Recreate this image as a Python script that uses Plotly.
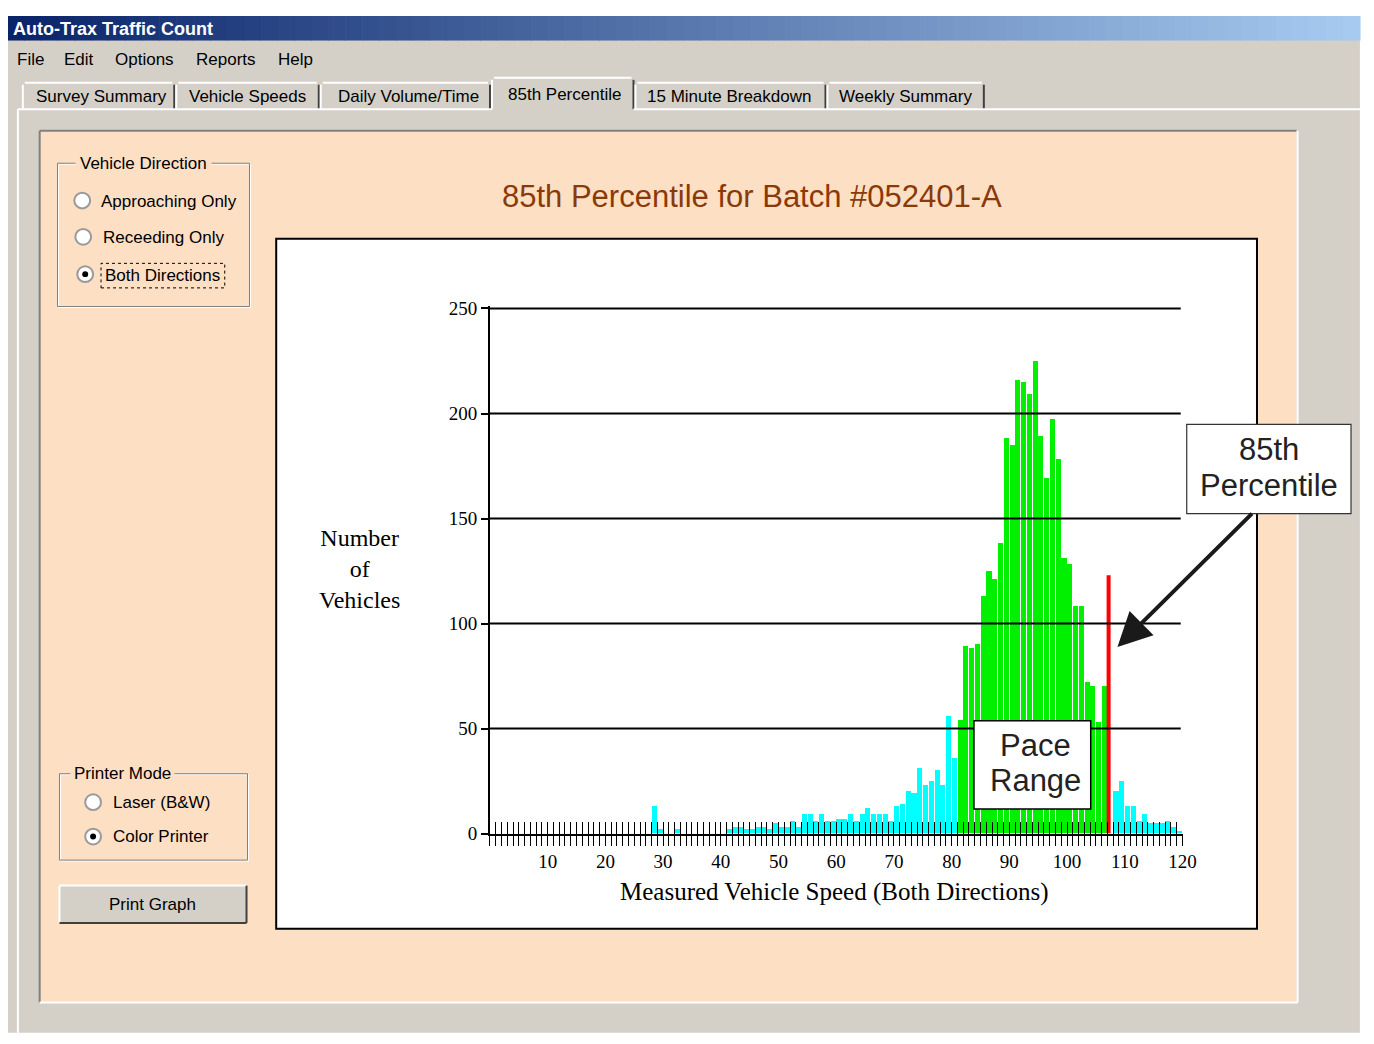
"""Auto-Trax Traffic Count - 85th percentile speed histogram screen."""

import plotly.graph_objects as go

# ── Data ──────────────────────────────────────────────────────────────────────
speeds = list(range(1, 120))  # mph, one bin per mph

vehicle_counts = [
    0, 0, 0, 0, 0, 0, 0, 0, 0, 0,            # 1-10
    0, 0, 0, 0, 0, 0, 0, 0, 0, 0,            # 11-20
    0, 0, 0, 0, 0, 0, 0, 13, 2, 0,           # 21-30
    0, 2, 0, 0, 0, 0, 0, 0, 0, 0,            # 31-40
    2, 3, 3, 2, 2, 3, 3, 2, 5, 3,            # 41-50
    3, 6, 3, 9, 9, 6, 9, 6, 6, 7,            # 51-60
    7, 9, 6, 9, 12, 9, 9, 9, 6, 13,          # 61-70
    14, 20, 19, 31, 23, 25, 30, 23, 56, 36,  # 71-80
    54, 89, 88, 90, 113, 125, 121, 138, 188, 185,   # 81-90
    216, 215, 209, 225, 189, 169, 197, 178, 131, 128,  # 91-100
    108, 108, 72, 70, 53, 70, 0, 20, 25, 13,  # 101-110
    13, 6, 9, 5, 5, 5, 6, 3, 1,               # 111-119
]

pace_low, pace_high = 81, 106   # pace range bins, drawn green
pct85_speed = 107.2             # 85th percentile marker
pct85_marker_top = 123

y_tick_vals = [0, 50, 100, 150, 200, 250]
x_tick_vals = [10, 20, 30, 40, 50, 60, 70, 80, 90, 100, 110, 120]

chart_title = "85th Percentile for Batch #052401-A"
x_title = "Measured Vehicle Speed (Both Directions)"
y_title = "Number<br>of<br>Vehicles"

window_title = "Auto-Trax Traffic Count"
menu_items = ["File", "Edit", "Options", "Reports", "Help"]
tab_labels = ["Survey Summary", "Vehicle Speeds", "Daily Volume/Time",
              "85th Percentile", "15 Minute Breakdown", "Weekly Summary"]
active_tab = "85th Percentile"
direction_options = ["Approaching Only", "Receeding Only", "Both Directions"]
direction_selected = "Both Directions"
printer_options = ["Laser (B&W)", "Color Printer"]
printer_selected = "Color Printer"

# ── Styling ───────────────────────────────────────────────────────────────────
UI_FONT = "Liberation Sans, Arial, sans-serif"
SERIF   = "Liberation Serif, Times New Roman, serif"
GRAY    = "#D4D0C8"
SHADOW  = "#808080"
DARK    = "#404040"
PEACH   = "#FDDFC4"
CYAN    = "#00FFFF"
GREEN   = "#00F000"

# figure sits inside the page's default 8px body margin
W, H = 1358, 1028
OFF_X, OFF_Y = 8, 8


def px(x):
    return (x - OFF_X) / W


def py(y):
    return 1 - (y - OFF_Y) / H


def rect(x0, y0, x1, y1, fill="rgba(0,0,0,0)", color=None, lw=0, layer="below", dash="solid"):
    return dict(type="rect", xref="paper", yref="paper",
                x0=px(x0), x1=px(x1), y0=py(y1), y1=py(y0),
                fillcolor=fill, layer=layer,
                line=dict(color=color or "rgba(0,0,0,0)", width=lw, dash=dash))


def seg(x0, y0, x1, y1, color, lw=1, layer="below"):
    return dict(type="line", xref="paper", yref="paper",
                x0=px(x0), x1=px(x1), y0=py(y0), y1=py(y1),
                line=dict(color=color, width=lw), layer=layer)


def circle(cx, cy, r, fill, color="rgba(0,0,0,0)", lw=0):
    return dict(type="circle", xref="paper", yref="paper",
                x0=px(cx - r), x1=px(cx + r), y0=py(cy + r), y1=py(cy - r),
                fillcolor=fill, line=dict(color=color, width=lw), layer="below")


def text(x, y, s, size=17, xanchor="left", color="black", family=UI_FONT, bg=None, pad=0):
    return dict(x=px(x), y=py(y), xref="paper", yref="paper", text=s,
                showarrow=False, xanchor=xanchor, yanchor="middle",
                font=dict(family=family, size=size, color=color),
                bgcolor=bg or "rgba(0,0,0,0)", borderpad=pad)


shapes, notes = [], []

# window + title bar gradient
shapes.append(rect(7, 8, 1374, 1044, fill=GRAY))
c0, c1 = (10, 36, 106), (166, 202, 240)
n_steps = 80
for i in range(n_steps):
    t = i / (n_steps - 1)
    c = tuple(round(a + (b - a) * t) for a, b in zip(c0, c1))
    xa = 7 + (1374 - 7) * i / n_steps
    xb = 7 + (1374 - 7) * (i + 1) / n_steps + 0.6
    shapes.append(rect(xa, 8, xb, 33, fill=f"rgb{c}"))
notes.append(text(12, 21, f"<b>{window_title}</b>", size=18, color="white"))

# menu bar
for label, cx in zip(menu_items, [31, 80, 146, 228, 298]):
    notes.append(text(cx, 52, label, size=17, xanchor="center"))

# tabs
tab_edges = [(23, 176), (178, 322), (324, 495), (497, 640), (642, 834), (836, 994)]
tab_centers = [102, 250, 413, 570, 737, 915]
for label, (l, r), cx in zip(tab_labels, tab_edges, tab_centers):
    top = 71 if label == active_tab else 76
    shapes.append(seg(l, top + 2, l, 103, "white", 2))
    shapes.append(seg(l + 2, top, r - 2, top, "white", 2))
    shapes.append(seg(r, top + 2, r, 103, DARK, 2))
    notes.append(text(cx, 88 if label == active_tab else 90, label, size=17, xanchor="center"))
shapes.append(seg(18, 103, 497, 103, "white", 2))
shapes.append(seg(640, 103, 1374, 103, "white", 2))
shapes.append(seg(18, 103, 18, 1044, "white", 2))

# peach panel with sunken border
shapes.append(rect(40, 125, 1310, 1013, fill=PEACH))
shapes.append(seg(40, 125, 1310, 125, SHADOW, 2))
shapes.append(seg(40, 125, 40, 1013, SHADOW, 2))
shapes.append(seg(40, 1013, 1311, 1013, "white", 2))
shapes.append(seg(1311, 125, 1311, 1013, "white", 2))

# white chart box
shapes.append(rect(279, 235, 1270, 938, fill="white", color="black", lw=2))

# group box: vehicle direction
shapes.append(rect(59, 159, 253, 305, color="white", lw=1))
shapes.append(rect(58, 158, 252, 304, color=SHADOW, lw=1))
notes.append(text(145, 158, "Vehicle Direction", size=17, xanchor="center", bg=PEACH, pad=4))
for label, (cx, cy), lx in zip(direction_options, [(83, 196), (84, 233), (86, 271)], [101, 103, 105]):
    shapes.append(circle(cx, cy, 8, "white", "#9A9A9A", 2))
    if label == direction_selected:
        shapes.append(circle(cx, cy, 3, "black"))
        shapes.append(rect(lx - 3, cy - 11, lx + 122, cy + 14, color="black", lw=1, dash="dot"))
    notes.append(text(lx, cy + 1, label, size=17))

# group box: printer mode
shapes.append(rect(61, 781, 251, 869, color="white", lw=1))
shapes.append(rect(60, 780, 250, 868, color=SHADOW, lw=1))
notes.append(text(124, 780, "Printer Mode", size=17, xanchor="center", bg=PEACH, pad=3))
for label, cy in zip(printer_options, [809, 844]):
    shapes.append(circle(94, cy, 8, "white", "#9A9A9A", 2))
    if label == printer_selected:
        shapes.append(circle(94, cy, 3, "black"))
    notes.append(text(113, cy, label, size=17))

# print button
shapes.append(rect(60, 894, 249, 932, fill=GRAY))
shapes.append(seg(60, 894, 249, 894, "white", 2))
shapes.append(seg(60, 894, 60, 932, "white", 2))
shapes.append(seg(60, 932, 249, 932, DARK, 2))
shapes.append(seg(249, 894, 249, 932, DARK, 2))
notes.append(text(154, 913, "Print Graph", size=17, xanchor="center"))

# chart texts
notes.append(text(760, 192, chart_title, size=31, xanchor="center", color="#8A3A08"))
notes.append(text(363, 571, y_title, size=24, xanchor="center", family=SERIF))
notes.append(text(843, 900, x_title, size=25, xanchor="center", family=SERIF))

# gridlines drawn over the bars, as in the original
for v in y_tick_vals[1:]:
    shapes.append(dict(type="line", xref="x", yref="y", x0=0, x1=119.7, y0=v, y1=v,
                       line=dict(color="black", width=2), layer="above"))

# callouts
shapes.append(rect(984, 726, 1102, 816, fill="white", color="black", lw=1.5, layer="above"))
notes.append(text(1046, 751, "Pace", size=31, xanchor="center", color="#222"))
notes.append(text(1046, 787, "Range", size=31, xanchor="center", color="#222"))
shapes.append(rect(1199, 424, 1365, 515, fill="white", color="#333", lw=1.2, layer="above"))
notes.append(text(1282, 450, "85th", size=31, xanchor="center", color="#222"))
notes.append(text(1282, 486, "Percentile", size=31, xanchor="center", color="#222"))
notes.append(dict(x=px(1129), y=py(651), xref="paper", yref="paper", text="",
                  showarrow=True, ax=136, ay=-135, arrowhead=2, arrowsize=1.7,
                  arrowwidth=4, arrowcolor="#1A1A1A", standoff=0))

# ── Traces ────────────────────────────────────────────────────────────────────
bar_colors = [GREEN if pace_low <= s <= pace_high else CYAN for s in speeds]

fig = go.Figure()
fig.add_trace(go.Bar(
    x=speeds, y=vehicle_counts, offset=0.03, width=0.88,
    marker=dict(color=bar_colors, line=dict(width=0)),
    hovertemplate="%{x} mph: %{y}<extra></extra>",
))
fig.add_trace(go.Scatter(
    x=[pct85_speed, pct85_speed], y=[0, pct85_marker_top], mode="lines",
    line=dict(color="#FF0000", width=4), hoverinfo="skip",
))
fig.add_trace(go.Scatter(x=[None], y=[None], xaxis="x2", yaxis="y", hoverinfo="skip"))

x_dom = [px(495), px(1195)]
x_rng = [0, 120.05]
y_rng = [0, 251]          # a little headroom so the 250 gridline is not clipped
y_dom = [py(841), py(841 - 2.14 * 251)]
fig.update_layout(
    width=W, height=H, margin=dict(l=0, r=0, t=0, b=0),
    paper_bgcolor="white", plot_bgcolor="rgba(0,0,0,0)",
    showlegend=False, bargap=0,
    shapes=shapes, annotations=notes,
    xaxis=dict(
        domain=x_dom, range=x_rng, tickmode="array",
        tickvals=x_tick_vals, ticktext=[str(v) for v in x_tick_vals],
        ticks="outside", ticklen=10, tickwidth=1.3, tickcolor="black",
        minor=dict(tickmode="linear", tick0=0, dtick=1, ticks="outside",
                   ticklen=10, tickwidth=1.3, tickcolor="black", showgrid=False),
        showline=True, linecolor="black", linewidth=2,
        showgrid=False, zeroline=False, fixedrange=True,
        tickfont=dict(family=SERIF, size=19, color="black"),
    ),
    xaxis2=dict(
        domain=x_dom, range=x_rng, overlaying="x", anchor="y", side="bottom",
        tickmode="linear", tick0=0, dtick=1, ticks="inside", ticklen=12,
        tickwidth=1.3, tickcolor="black", showticklabels=False,
        showgrid=False, zeroline=False, showline=False, fixedrange=True,
    ),
    yaxis=dict(
        domain=y_dom, range=y_rng, tickvals=y_tick_vals,
        ticks="outside", ticklen=7, tickwidth=2, tickcolor="black",
        showline=True, linecolor="black", linewidth=2,
        showgrid=False, zeroline=False, fixedrange=True,
        tickfont=dict(family=SERIF, size=19, color="black"),
    ),
)

fig.write_html("out.html")
